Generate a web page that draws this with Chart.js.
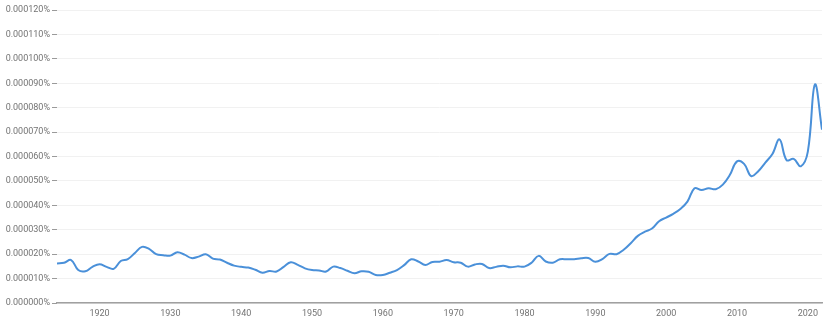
<!DOCTYPE html>
<html>
<head>
<meta charset="utf-8">
<script src="https://cdn.jsdelivr.net/npm/chart.js@4.4.0/dist/chart.umd.min.js"></script>
<style>
  html, body { margin: 0; padding: 0; background: #fff; }
  #wrap { width: 827px; height: 323px; }
</style>
</head>
<body>
<div id="wrap"><canvas id="ngram"></canvas></div>
<script>
// years shown on the x axis (one value per year)
const years = [
  1914, 1915, 1916, 1917, 1918, 1919, 1920, 1921, 1922, 1923,
  1924, 1925, 1926, 1927, 1928, 1929, 1930, 1931, 1932, 1933,
  1934, 1935, 1936, 1937, 1938, 1939, 1940, 1941, 1942, 1943,
  1944, 1945, 1946, 1947, 1948, 1949, 1950, 1951, 1952, 1953,
  1954, 1955, 1956, 1957, 1958, 1959, 1960, 1961, 1962, 1963,
  1964, 1965, 1966, 1967, 1968, 1969, 1970, 1971, 1972, 1973,
  1974, 1975, 1976, 1977, 1978, 1979, 1980, 1981, 1982, 1983,
  1984, 1985, 1986, 1987, 1988, 1989, 1990, 1991, 1992, 1993,
  1994, 1995, 1996, 1997, 1998, 1999, 2000, 2001, 2002, 2003,
  2004, 2005, 2006, 2007, 2008, 2009, 2010, 2011, 2012, 2013,
  2014, 2015, 2016, 2017, 2018, 2019, 2020, 2021, 2022
];

// frequency in millionths of a percent (16.2 -> 0.0000162%)
const frequency = [
  16.2, 16.5, 17.6, 13.5, 13.0, 14.8, 15.9, 14.8, 14.0, 17.2,
  18.0, 20.5, 23.0, 22.2, 20.0, 19.6, 19.4, 20.8, 19.8, 18.4,
  19.0, 20.0, 18.2, 17.8, 16.5, 15.3, 14.8, 14.5, 13.6, 12.4,
  13.1, 12.9, 14.8, 16.7, 15.6, 14.2, 13.5, 13.3, 12.9, 14.9,
  14.3, 13.2, 12.2, 13.0, 12.8, 11.5, 11.5, 12.4, 13.5, 15.5,
  17.9, 17.0, 15.6, 16.8, 16.9, 17.6, 16.7, 16.5, 14.9, 15.8,
  16.0, 14.3, 14.8, 15.3, 14.6, 15.0, 14.9, 16.5, 19.3, 17.0,
  16.5, 17.9, 17.9, 17.9, 18.3, 18.4, 16.9, 18.0, 20.1, 20.0,
  21.8, 24.5, 27.5, 29.2, 30.5, 33.5, 35.0, 36.5, 38.5, 41.5,
  47.0, 46.3, 47.0, 46.6, 48.5, 52.5, 58.0, 57.0, 52.0, 54.0,
  57.5, 61.0, 67.0, 58.5, 59.0, 56.0, 62.0, 89.5, 71.0
];

// labelled decades under the axis
const xTickYears = [1920, 1930, 1940, 1950, 1960, 1970, 1980, 1990, 2000, 2010, 2020];

const labelGrey = "#737373";

let points = [];
for (let i = 0; i < years.length; i++) points.push({ x: years[i], y: frequency[i] });

new Chart(document.getElementById("ngram"), {
  type: "line",
  data: {
    datasets: [{
      data: points,
      borderColor: "#4a90d9",
      borderWidth: 2,
      pointRadius: 0,
      fill: false,
      tension: 0.4
    }]
  },
  options: {
    responsive: true,
    maintainAspectRatio: false,
    animation: false,
    layout: { padding: { top: 10, right: 5, left: 0, bottom: 0 } },
    plugins: {
      legend: { display: false },
      tooltip: { enabled: false }
    },
    scales: {
      x: {
        type: "linear",
        min: 1914,
        max: 2022,
        afterBuildTicks: (scale) => {
          scale.ticks = xTickYears.map(v => ({ value: v }));
        },
        afterFit: (scale) => { scale.height = 20; },
        grid: { display: false, drawTicks: false },
        border: { display: true, color: "#a0a0a0", width: 1.5 },
        ticks: {
          color: labelGrey,
          font: { family: "Roboto", size: 9 },
          padding: 5,
          maxRotation: 0,
          callback: (v) => String(v)
        }
      },
      y: {
        min: 0,
        max: 120,
        afterFit: (scale) => { scale.width = 57; },
        grid: {
          color: "#f1f1f1",
          tickColor: "#9a9a9a",
          tickLength: 5,
          lineWidth: 1
        },
        border: { display: false },
        ticks: {
          stepSize: 10,
          color: labelGrey,
          font: { family: "Roboto", size: 9 },
          padding: 2,
          callback: (v) => (v / 1e6).toFixed(6) + "%"
        }
      }
    }
  }
});
</script>
</body>
</html>
